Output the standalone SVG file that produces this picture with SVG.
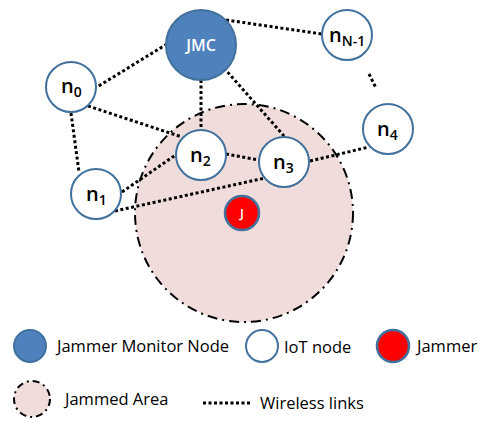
<svg xmlns="http://www.w3.org/2000/svg" width="484" height="422" viewBox="0 0 484 422">
<style>
.link{stroke:#000;stroke-width:3;stroke-dasharray:3 2.5;fill:none}
.iot{fill:#fff;stroke:#41719C;stroke-width:2}
.jmc{fill:#4F81BD;stroke:#41719C;stroke-width:2}
.jam{fill:#FF0000;stroke:#41719C;stroke-width:2.5}
.area{fill:#F0DCDB;stroke:#000;stroke-width:2;stroke-dasharray:10 5 2 5}
.lbl{font-family:"Open Sans","Liberation Sans",sans-serif;font-size:20px;font-weight:600;fill:#000}
.sub{font-size:14px}
.leg{font-family:"Open Sans","Liberation Sans",sans-serif;font-size:16.5px;fill:#000}
</style>
<rect width="484" height="422" fill="#fff"/>
<g id="jammed-area"><circle class="area" cx="244" cy="213" r="109"/></g>
<g id="connectors">
<line class="link" x1="226" y1="20" x2="322" y2="34"/>
<line class="link" x1="167" y1="44" x2="97" y2="87"/>
<line class="link" x1="201" y1="80" x2="201" y2="128"/>
<line class="link" x1="224" y1="68" x2="284" y2="136"/>
<line class="link" x1="88" y1="106" x2="182" y2="137"/>
<line class="link" x1="71" y1="113" x2="79" y2="172"/>
<line class="link" x1="122" y1="192" x2="177" y2="154"/>
<line class="link" x1="115" y1="211" x2="265" y2="178"/>
<line class="link" x1="226" y1="154" x2="259" y2="160"/>
<line class="link" x1="310" y1="161" x2="369" y2="147"/>
<line class="link" x1="369" y1="74" x2="376" y2="88"/>
</g>
<g id="jmc"><circle class="jmc" cx="201" cy="45" r="35"/><text x="201" y="51" text-anchor="middle" font-family="Open Sans, Liberation Sans, sans-serif" font-size="16" font-weight="600" fill="#fff">JMC</text></g>
<g id="nN1"><circle class="iot" cx="347" cy="35" r="25"/><text class="lbl" x="329" y="42">n<tspan class="sub" dy="4">N-1</tspan></text></g>
<g id="n0"><circle class="iot" cx="71" cy="87" r="25"/><text class="lbl" x="61" y="93">n<tspan class="sub" dy="4">0</tspan></text></g>
<g id="n4"><circle class="iot" cx="388" cy="129" r="25"/><text class="lbl" x="377" y="136">n<tspan class="sub" dy="4">4</tspan></text></g>
<g id="n2"><circle class="iot" cx="201" cy="155" r="25"/><text class="lbl" x="190" y="162">n<tspan class="sub" dy="4">2</tspan></text></g>
<g id="n3"><circle class="iot" cx="284" cy="162" r="25"/><text class="lbl" x="273" y="169">n<tspan class="sub" dy="4">3</tspan></text></g>
<g id="n1"><circle class="iot" cx="96" cy="194" r="25"/><text class="lbl" x="86" y="201">n<tspan class="sub" dy="4">1</tspan></text></g>
<g id="jammer"><circle class="jam" cx="242" cy="213" r="17"/><text x="242" y="218" text-anchor="middle" font-family="Open Sans, Liberation Sans, sans-serif" font-size="13" font-weight="600" fill="#fff">J</text></g>
<g id="legend">
<circle class="jmc" cx="30" cy="346" r="16"/>
<text class="leg" x="57" y="352">Jammer Monitor Node</text>
<circle class="iot" cx="262" cy="346" r="16"/>
<text class="leg" x="284" y="353">IoT node</text>
<circle class="jam" cx="393" cy="346" r="16"/>
<text class="leg" x="417" y="352">Jammer</text>
<circle class="area" cx="32" cy="399" r="18" style="stroke-dasharray:7 4 2 4"/>
<text class="leg" x="65" y="405">Jammed Area</text>
<line class="link" x1="203" y1="403" x2="250" y2="403"/>
<text class="leg" x="260" y="409">Wireless links</text>
</g>
</svg>
